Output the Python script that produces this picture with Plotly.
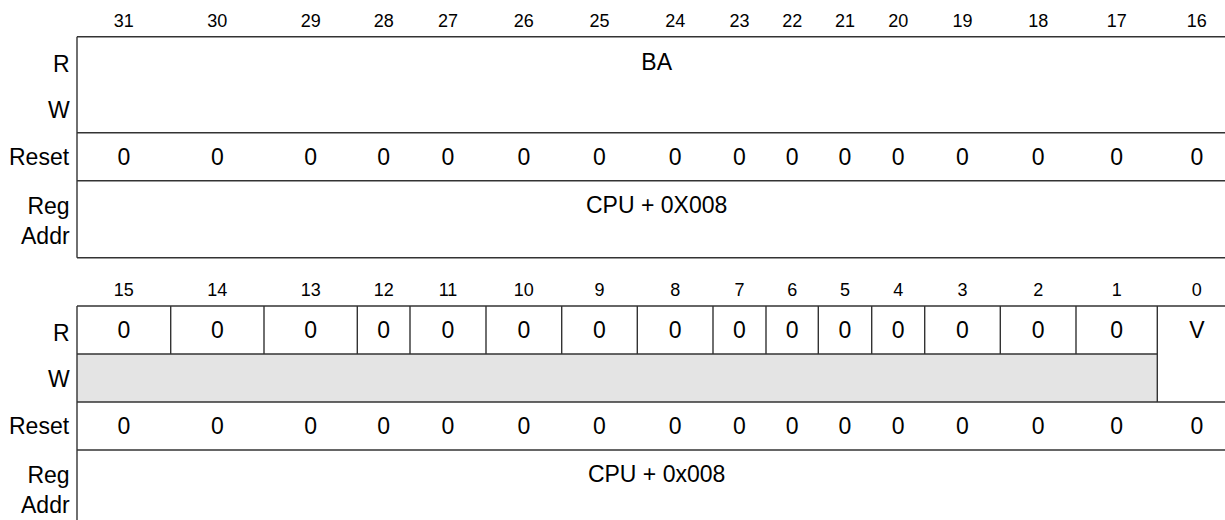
import plotly.graph_objects as go

# ---------------- data ----------------
bits_hi = ["31", "30", "29", "28", "27", "26", "25", "24", "23", "22", "21", "20", "19", "18", "17", "16"]
bits_lo = ["15", "14", "13", "12", "11", "10", "9", "8", "7", "6", "5", "4", "3", "2", "1", "0"]
reset_hi = ["0", "0", "0", "0", "0", "0", "0", "0", "0", "0", "0", "0", "0", "0", "0", "0"]
reset_lo = ["0", "0", "0", "0", "0", "0", "0", "0", "0", "0", "0", "0", "0", "0", "0", "0"]
read_lo = ["0", "0", "0", "0", "0", "0", "0", "0", "0", "0", "0", "0", "0", "0", "0", "V"]
field_hi = "BA"
addr_hi = "CPU + 0X008"
addr_lo = "CPU + 0x008"
row_labels = ["R", "W", "Reset", "Reg<br>Addr"]

# ---------------- layout ----------------
W, H = 1225, 520
X0 = 77.0
col_widths = [93.7, 93.3, 93.3, 52.7, 76, 75.7, 75.6, 75.7, 53, 52.3, 53.4, 53, 75.6, 75.7, 81.3, 79]
edges = [X0]
for w in col_widths:
    edges.append(edges[-1] + w)
centers = [(edges[i] + edges[i + 1]) / 2 for i in range(len(col_widths))]
XR = edges[-1]
ROW_H = 48.0
ADDR_H = 77.0
TOPS = [36.7, 306.0]
NUM_Y_OFF = -14.5
DY = 2.5  # small downward nudge for centred text

LINE = dict(color="#333333", width=1.4)
FONT = "Liberation Sans, Arial, Helvetica, sans-serif"
BIG = 23
SMALL = 18
TXT = "#000000"

fig = go.Figure()
shapes = []
annotations = []


def hline(y, x0=X0, x1=XR):
    shapes.append(dict(type="line", xref="x", yref="y", x0=x0, x1=x1, y0=y, y1=y, line=LINE))


def vline(x, y0, y1):
    shapes.append(dict(type="line", xref="x", yref="y", x0=x, x1=x, y0=y0, y1=y1, line=LINE))


def label_rows(top):
    ys = [top + ROW_H / 2 + 3, top + 1.5 * ROW_H + 1, top + 2.5 * ROW_H, top + 3 * ROW_H + 40]
    for txt, y in zip(row_labels, ys):
        annotations.append(dict(x=72, y=y, xref="x", yref="y", text=txt, showarrow=False,
                                xanchor="right", yanchor="middle",
                                font=dict(family=FONT, size=BIG, color=TXT), align="right"))


# ---- upper register (31..16) ----
t = TOPS[0]
hline(t)
hline(t + 2 * ROW_H)
hline(t + 3 * ROW_H)
hline(t + 3 * ROW_H + ADDR_H)
vline(X0, t, t + 3 * ROW_H + ADDR_H)
vline(XR, t, t + 3 * ROW_H + ADDR_H)
label_rows(t)

fig.add_trace(go.Scatter(x=centers, y=[t + NUM_Y_OFF] * 16, text=bits_hi, mode="text",
                         textfont=dict(family=FONT, size=SMALL, color=TXT), hoverinfo="skip"))
fig.add_trace(go.Scatter(x=centers, y=[t + 2.5 * ROW_H + DY] * 16, text=reset_hi, mode="text",
                         textfont=dict(family=FONT, size=BIG, color=TXT), hoverinfo="skip"))
fig.add_trace(go.Scatter(x=[(X0 + XR) / 2], y=[t + ROW_H / 2 + 1 + DY], text=[field_hi], mode="text",
                         textfont=dict(family=FONT, size=BIG, color=TXT), hoverinfo="skip"))
fig.add_trace(go.Scatter(x=[(X0 + XR) / 2], y=[t + 3 * ROW_H + 24 + DY], text=[addr_hi], mode="text",
                         textfont=dict(family=FONT, size=BIG, color=TXT), hoverinfo="skip"))

# ---- lower register (15..0) ----
t = TOPS[1]
shapes.append(dict(type="rect", xref="x", yref="y", x0=X0, x1=edges[-2], y0=t + ROW_H, y1=t + 2 * ROW_H,
                   fillcolor="#e4e4e4", line=dict(width=0), layer="below"))
hline(t)
hline(t + ROW_H, X0, edges[-2])
hline(t + 2 * ROW_H)
hline(t + 3 * ROW_H)
hline(t + 3 * ROW_H + ADDR_H)
vline(X0, t, t + 3 * ROW_H + ADDR_H)
vline(XR, t, t + 3 * ROW_H + ADDR_H)
for e in edges[1:-2]:
    vline(e, t, t + ROW_H)
vline(edges[-2], t, t + 2 * ROW_H)
label_rows(t)

fig.add_trace(go.Scatter(x=centers, y=[t + NUM_Y_OFF] * 16, text=bits_lo, mode="text",
                         textfont=dict(family=FONT, size=SMALL, color=TXT), hoverinfo="skip"))
fig.add_trace(go.Scatter(x=centers, y=[t + ROW_H / 2 + DY] * 16, text=read_lo, mode="text",
                         textfont=dict(family=FONT, size=BIG, color=TXT), hoverinfo="skip"))
fig.add_trace(go.Scatter(x=centers, y=[t + 2.5 * ROW_H + DY] * 16, text=reset_lo, mode="text",
                         textfont=dict(family=FONT, size=BIG, color=TXT), hoverinfo="skip"))
fig.add_trace(go.Scatter(x=[(X0 + XR) / 2], y=[t + 3 * ROW_H + 24 + DY], text=[addr_lo], mode="text",
                         textfont=dict(family=FONT, size=BIG, color=TXT), hoverinfo="skip"))

fig.update_layout(
    width=W, height=H, margin=dict(l=0, r=0, t=0, b=0),
    paper_bgcolor="white", plot_bgcolor="white", showlegend=False,
    xaxis=dict(range=[0, W], visible=False, fixedrange=True),
    yaxis=dict(range=[H, 0], visible=False, fixedrange=True),
    shapes=shapes, annotations=annotations,
)

fig.write_html("out.html", config={"displayModeBar": False},
               post_script="document.body.style.margin='0';")
